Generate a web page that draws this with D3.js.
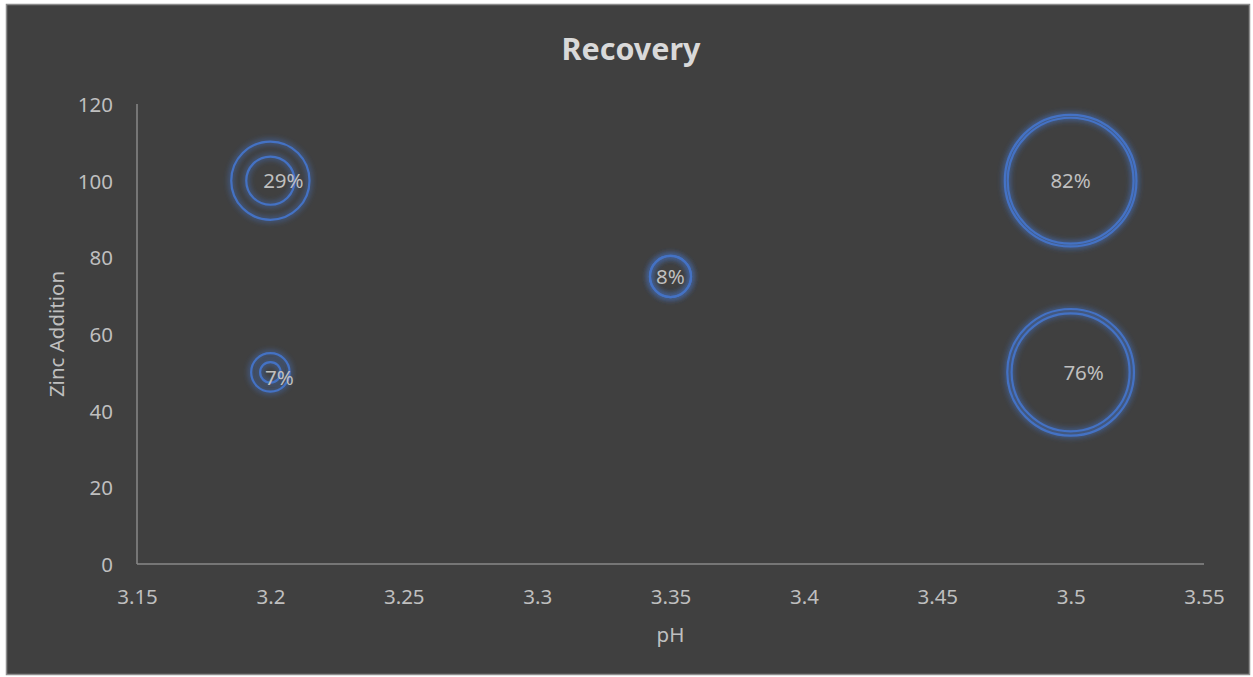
<!DOCTYPE html>
<html>
<head>
<meta charset="utf-8">
<script src="https://cdn.jsdelivr.net/npm/d3@7"></script>
<style>
  html, body { margin: 0; padding: 0; background: #ffffff; }
  svg { display: block; }
  text { font-family: "Noto Sans", "Open Sans", sans-serif; }
</style>
</head>
<body>
<svg id="chart" width="1253" height="677"></svg>
<script>
// pH / zinc addition trials and their recovery
const pH = [3.2, 3.2, 3.35, 3.5, 3.5];
const zincAddition = [100, 50, 75, 100, 50];
const recovery = [0.29, 0.07, 0.08, 0.82, 0.76];      // labelled series
const recoveryAlt = [0.11, 0.02, 0.08, 0.75, 0.66];   // second, unlabelled series

const xTicks = [3.15, 3.2, 3.25, 3.3, 3.35, 3.4, 3.45, 3.5, 3.55];
const yTicks = [0, 20, 40, 60, 80, 100, 120];

// label nudges (pixels) for the data labels of the first series
const labelDx = [13, 9, 0, 0, 13];
const labelDy = [0, 5, 0, 0, 0];

const W = 1253, H = 677;
const plot = { left: 137, right: 1204, top: 104, bottom: 564 };
const bg = "#404040", axisCol = "#898989", textCol = "#bfbfbf", titleCol = "#d9d9d9";
const bubbleCol = "#4472C4";

const svg = d3.select("#chart");

// glow used around each bubble ring
const defs = svg.append("defs");
const f = defs.append("filter").attr("id", "glow")
  .attr("x", "-20%").attr("y", "-20%").attr("width", "140%").attr("height", "140%");
f.append("feGaussianBlur").attr("stdDeviation", 2.6);

// chart area
svg.append("rect")
  .attr("x", 6.5).attr("y", 4.5).attr("width", 1243).attr("height", 670)
  .attr("fill", bg).attr("stroke", "#8c8c8c").attr("stroke-width", 1.5);

const x = d3.scaleLinear().domain([3.15, 3.55]).range([plot.left, plot.right]);
const y = d3.scaleLinear().domain([0, 120]).range([plot.bottom, plot.top]);
const r = d3.scaleSqrt().domain([0, 0.82]).range([0, 65.8]);

// axes (no tick marks, Excel-like)
const xAxis = d3.axisBottom(x).tickValues(xTicks).tickSize(0).tickPadding(25)
  .tickFormat(d => d3.format("")(+d.toFixed(2)));
const yAxis = d3.axisLeft(y).tickValues(yTicks).tickSize(0).tickPadding(24);

const gx = svg.append("g").attr("transform", `translate(0,${plot.bottom})`).call(xAxis);
const gy = svg.append("g").attr("transform", `translate(${plot.left},0)`).call(yAxis);

[gx, gy].forEach(g => {
  g.select(".domain").attr("stroke", axisCol).attr("stroke-width", 1.5);
  g.selectAll("text").attr("fill", textCol).attr("font-size", 20.5)
    .attr("font-family", '"Noto Sans", "Open Sans", sans-serif');
});
gy.select(".domain").attr("d", `M0,${plot.bottom}V${plot.top}`);
gx.select(".domain").attr("d", `M${plot.left},0H${plot.right}`);
gx.selectAll("text").attr("dy", "0.71em");
gy.selectAll("text").attr("dy", "0.36em");

// title and axis titles
svg.append("text").attr("x", 631).attr("y", 60).attr("text-anchor", "middle")
  .attr("fill", titleCol).attr("font-size", 30.5).attr("font-weight", "bold")
  .text("Recovery");
svg.append("text").attr("x", (plot.left + plot.right) / 2).attr("y", 642)
  .attr("text-anchor", "middle").attr("fill", textCol).attr("font-size", 20.5)
  .text("pH");
svg.append("text")
  .attr("transform", `translate(64,${(plot.top + plot.bottom) / 2}) rotate(-90)`)
  .attr("text-anchor", "middle").attr("fill", textCol).attr("font-size", 20.5)
  .text("Zinc Addition");

// bubbles: each drawn as an unfilled ring with a soft glow
function drawSeries(values, cls) {
  const g = svg.append("g").attr("class", cls);
  const pts = values.map((v, i) => ({ x: pH[i], y: zincAddition[i], v }));
  g.selectAll("circle.halo").data(pts).join("circle").attr("class", "halo")
    .attr("cx", d => x(d.x)).attr("cy", d => y(d.y)).attr("r", d => r(d.v))
    .attr("fill", "none").attr("stroke", bubbleCol).attr("stroke-opacity", 0.4)
    .attr("stroke-width", 7).attr("filter", "url(#glow)");
  g.selectAll("circle.ring").data(pts).join("circle").attr("class", "ring")
    .attr("cx", d => x(d.x)).attr("cy", d => y(d.y)).attr("r", d => r(d.v))
    .attr("fill", "none").attr("stroke", bubbleCol).attr("stroke-width", 2.2);
}
drawSeries(recovery, "series-1");
drawSeries(recoveryAlt, "series-2");

// data labels
svg.append("g").selectAll("text").data(recovery).join("text")
  .attr("x", (d, i) => x(pH[i]) + labelDx[i])
  .attr("y", (d, i) => y(zincAddition[i]) + labelDy[i])
  .attr("dy", "0.36em").attr("text-anchor", "middle")
  .attr("fill", textCol).attr("font-size", 20.5)
  .text(d => d3.format(".0%")(d));
</script>
</body>
</html>
